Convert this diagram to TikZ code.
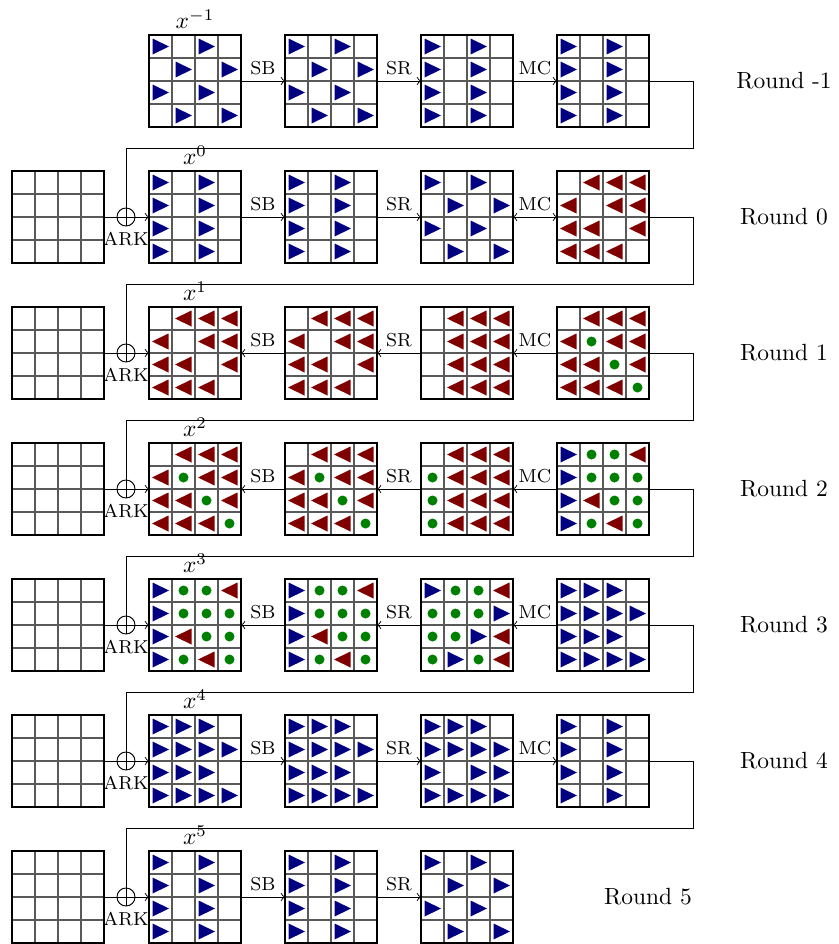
\documentclass[tikz,border=0pt]{standalone}
\usetikzlibrary{calc}
\definecolor{tb}{rgb}{0,0,0.5}
\definecolor{tr}{rgb}{0.5,0,0}
\definecolor{tg}{rgb}{0,0.5,0}
\tikzset{
  gridbox/.style={rectangle,minimum size=1.38cm,inner sep=0pt,outer sep=0pt},
  innerline/.style={line width=0.45pt,black!65},
  border/.style={line width=0.7pt,black},
  conn/.style={line width=0.4pt,black},
  oplus/.style={circle,draw,line width=0.4pt,minimum size=0.27cm,inner sep=0pt,outer sep=0pt},
  oplbl/.style={font=\footnotesize,inner sep=1pt,anchor=north},
  steplbl/.style={font=\footnotesize,above,inner sep=2.2pt},
  xlbl/.style={above,inner sep=2.5pt},
  roundlbl/.style={inner sep=0pt}
}
\newcommand{\mygrid}[4]{%
  \node[gridbox] (#1) at ({#2+46},{#3+46}) {};
  \foreach \k in {1,2,3} {
    \draw[innerline] ({#2+23*\k},#3) -- ({#2+23*\k},{#3+92});
    \draw[innerline] (#2,{#3+23*\k}) -- ({#2+92},{#3+23*\k});
  }
  \foreach \t [count=\i from 0] in #4 {
    \pgfmathtruncatemacro\rr{\i/4}
    \pgfmathtruncatemacro\cc{\i-4*\rr}
    \begin{scope}[shift={({#2+23*\cc+11.5},{#3+23*\rr+11.5})}]
      \if\t B\fill[tb] (-8,-8) -- (-8,8) -- (8.5,0) -- cycle;\fi
      \if\t R\fill[tr] (8,-8) -- (8,8) -- (-8.5,0) -- cycle;\fi
      \if\t G\fill[tg] (0,0) circle[radius=0.075cm];\fi
    \end{scope}
  }
  \draw[border] (#1.north west) rectangle (#1.south east);
}
\def\PA{B,o,B,o,o,B,o,B,B,o,B,o,o,B,o,B}
\def\PB{B,o,B,o,B,o,B,o,B,o,B,o,B,o,B,o}
\def\PC{o,R,R,R,R,o,R,R,R,R,o,R,R,R,R,o}
\def\PD{o,R,R,R,o,R,R,R,o,R,R,R,o,R,R,R}
\def\PE{o,R,R,R,R,G,R,R,R,R,G,R,R,R,R,G}
\def\PF{o,R,R,R,G,R,R,R,G,R,R,R,G,R,R,R}
\def\PG{B,G,G,R,B,G,G,G,B,R,G,G,B,G,R,G}
\def\PH{B,G,G,R,G,G,G,B,G,G,B,R,G,B,G,R}
\def\PI{B,B,B,o,B,B,B,B,B,B,B,o,B,B,B,B}
\def\PJ{B,B,B,o,B,B,B,B,B,o,B,B,B,B,B,B}
\def\PO{o}
\begin{document}
\begin{tikzpicture}[x=0.015cm,y=-0.015cm]
\useasboundingbox (0,0) rectangle (839,944);
% ---- grids ----
% row -1 (top 35)
\mygrid{a0}{149}{35}{\PA}
\mygrid{b0}{285}{35}{\PA}
\mygrid{c0}{421}{35}{\PB}
\mygrid{d0}{557}{35}{\PB}
% row 0 (top 171)
\mygrid{k1}{12}{171}{\PO}
\mygrid{a1}{149}{171}{\PB}
\mygrid{b1}{285}{171}{\PB}
\mygrid{c1}{421}{171}{\PA}
\mygrid{d1}{557}{171}{\PC}
% row 1 (top 307)
\mygrid{k2}{12}{307}{\PO}
\mygrid{a2}{149}{307}{\PC}
\mygrid{b2}{285}{307}{\PC}
\mygrid{c2}{421}{307}{\PD}
\mygrid{d2}{557}{307}{\PE}
% row 2 (top 443)
\mygrid{k3}{12}{443}{\PO}
\mygrid{a3}{149}{443}{\PE}
\mygrid{b3}{285}{443}{\PE}
\mygrid{c3}{421}{443}{\PF}
\mygrid{d3}{557}{443}{\PG}
% row 3 (top 579)
\mygrid{k4}{12}{579}{\PO}
\mygrid{a4}{149}{579}{\PG}
\mygrid{b4}{285}{579}{\PG}
\mygrid{c4}{421}{579}{\PH}
\mygrid{d4}{557}{579}{\PI}
% row 4 (top 715)
\mygrid{k5}{12}{715}{\PO}
\mygrid{a5}{149}{715}{\PI}
\mygrid{b5}{285}{715}{\PI}
\mygrid{c5}{421}{715}{\PJ}
\mygrid{d5}{557}{715}{\PB}
% row 5 (top 851)
\mygrid{k6}{12}{851}{\PO}
\mygrid{a6}{149}{851}{\PB}
\mygrid{b6}{285}{851}{\PB}
\mygrid{c6}{421}{851}{\PA}
% ---- x labels ----
\node[xlbl] (xl0) at (a0.north) {$x^{-1}$};
\node[xlbl] (xl1) at (a1.north) {$x^{0}$};
\node[xlbl] (xl2) at (a2.north) {$x^{1}$};
\node[xlbl] (xl3) at (a3.north) {$x^{2}$};
\node[xlbl] (xl4) at (a4.north) {$x^{3}$};
\node[xlbl] (xl5) at (a5.north) {$x^{4}$};
\node[xlbl] (xl6) at (a6.north) {$x^{5}$};
% ---- oplus nodes and key connections ----
\foreach \r/\y in {1/217,2/353,3/489,4/625,5/761,6/897} {
  \node[oplus] (p\r) at (126,\y) {};
  \draw[conn] (p\r.north) -- (p\r.south);
  \draw[conn] (p\r.west) -- (p\r.east);
  \draw[conn] (k\r.east) -- (p\r.west);
  \draw[conn,->] (p\r.east) -- (a\r.west);
  \node[oplbl] (ark\r) at ([yshift=-1.2pt]p\r.south) {ARK};
}
% ---- row connections ----
% forward rows
\foreach \r in {0,1,5,6} {
  \draw[conn,->] (a\r.east) -- node[steplbl] {SB} (b\r.west);
  \draw[conn,->] (b\r.east) -- node[steplbl] {SR} (c\r.west);
}
\draw[conn,->] (c0.east) -- node[steplbl] {MC} (d0.west);
\draw[conn,<->] (c1.east) -- node[steplbl] {MC} (d1.west);
\draw[conn,->] (c5.east) -- node[steplbl] {MC} (d5.west);
% backward rows
\foreach \r in {2,3,4} {
  \draw[conn,<-] (a\r.east) -- node[steplbl] {SB} (b\r.west);
  \draw[conn,<-] (b\r.east) -- node[steplbl] {SR} (c\r.west);
  \draw[conn,<-] (c\r.east) -- node[steplbl] {MC} (d\r.west);
}
% ---- loops between rows ----
\foreach \r/\y [evaluate=\r as \n using int(\r+1)] in {0/81,1/217,2/353,3/489,4/625,5/761} {
  \draw[conn] (d\r.east) -- (693,\y) -- (693,{\y+67}) -- (126,{\y+67}) -- (p\n.north);
}
% ---- round labels ----
\node[roundlbl] (rd0) at (784,81) {Round -1};
\node[roundlbl] (rd1) at (784,217) {Round 0};
\node[roundlbl] (rd2) at (784,353) {Round 1};
\node[roundlbl] (rd3) at (784,489) {Round 2};
\node[roundlbl] (rd4) at (784,625) {Round 3};
\node[roundlbl] (rd5) at (784,761) {Round 4};
\node[roundlbl] (rd6) at (648,897) {Round 5};
\end{tikzpicture}
\end{document}
